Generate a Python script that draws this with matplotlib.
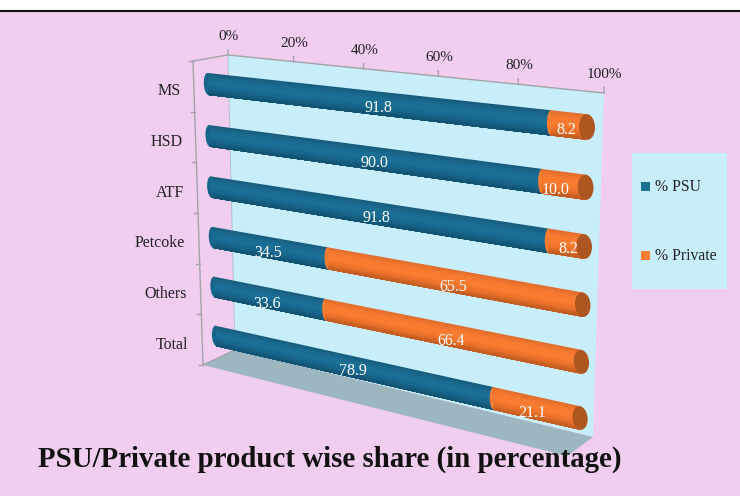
import numpy as np
import matplotlib
matplotlib.use("Agg")
import matplotlib.pyplot as plt
from matplotlib.patches import Ellipse, Rectangle
from matplotlib.transforms import Transform

categories = ["MS", "HSD", "ATF", "Petcoke", "Others", "Total"]
psu = [91.8, 90.0, 91.8, 34.5, 33.6, 78.9]
private = [8.2, 10.0, 8.2, 65.5, 66.4, 21.1]
series_names = ["% PSU", "% Private"]
pct_ticks = [0, 20, 40, 60, 80, 100]

plt.rcParams["font.family"] = ["Liberation Serif", "DejaVu Serif"]

PINK = "#f1cdf0"
WALL = "#c8eefc"
FLOOR = "#9db7c1"
GREY = "#a3a3a8"
INK = "#222222"
BLUE = ["#175a7c", "#1a6c91", "#1b7097", "#17658a", "#11506f"]
ORANGE = ["#e06c2b", "#f77a30", "#fb7d31", "#ea7029", "#bb5a20"]
CAP = "#ad5620"

# hand nudges of the value labels along the bar, in pixels
psu_nudge = [5, 4, 3, -6, -7, 1]
private_nudge = [-3, -8, 2, 4, 4, -4]
private_lift = [0, 0, 0, 2, 2, 0]


class Perspective(Transform):
    # maps a plane (u, v) onto picture pixels, from its four corners
    input_dims = 2
    output_dims = 2

    def __init__(self, u, v, tl, tr, bl, br):
        super().__init__()
        a = []
        b = []
        src = [(u[0], v[0]), (u[1], v[0]), (u[0], v[1]), (u[1], v[1])]
        for (x, y), (px, py) in zip(src, [tl, tr, bl, br]):
            a.append([x, y, 1, 0, 0, 0, -px * x, -px * y])
            a.append([0, 0, 0, x, y, 1, -py * x, -py * y])
            b += [px, py]
        self.h = np.append(np.linalg.solve(np.array(a, float), np.array(b, float)), 1).reshape(3, 3)

    def transform_non_affine(self, values):
        pts = np.column_stack([values, np.ones(len(values))]) @ self.h.T
        return pts[:, :2] / pts[:, 2:]


fig = plt.figure(figsize=(7.4, 4.96), dpi=100, facecolor=PINK)
ax = fig.add_axes([0, 0, 1, 1])
ax.set_xlim(0, 740)
ax.set_ylim(496, 0)
ax.autoscale(False)
ax.axis("off")

# white strip and rule at the top of the slide
ax.add_patch(Rectangle((0, 0), 740, 11, color="white", lw=0))
ax.plot([0, 740], [11, 11], color="#111111", lw=1.5)

# chart box: wall, floor, side edges
wall_tl, wall_tr, wall_bl, wall_br = (228, 55), (604, 93), (235, 350), (593, 437)
ax.fill(*zip(wall_tl, wall_tr, wall_br, wall_bl), color=WALL, lw=0)
ax.fill(*zip(wall_bl, wall_br, (567, 456), (203, 365)), color=FLOOR, lw=0)
ax.plot(*zip((193, 61), wall_tl, wall_tr), color=GREY, lw=1)
ax.plot(*zip(wall_tl, wall_bl), color="#b9c4d0", lw=0.8)
ax.plot(*zip((193, 61), (203, 365), wall_bl), color=GREY, lw=1)

wall = Perspective((0, 100), (0, 1), wall_tl, wall_tr, wall_bl, wall_br) + ax.transData
for p in pct_ticks:
    ax.plot([p, p], [0, -0.016], color=GREY, lw=1, transform=wall)
    ax.annotate(str(p) + "%", (p, 0), xycoords=wall, xytext=(0.5, 13.3), textcoords="offset points",
                ha="center", va="center", fontsize=11, color=INK)

n = len(categories)
for i in range(n + 1):
    yy = 61 + (365 - 61) * i / n
    xx = 193 + 10 * i / n
    ax.plot([xx - 4, xx], [yy, yy], color=GREY, lw=1)

# plane the bars sit on: x is percent, y is the category slot
bars = Perspective((0, 100), (0, 5), (208, 84), (587, 127), (216, 336), (580, 418)) + ax.transData

half = 0.21
strips = 24
edges = np.linspace(-half, half, strips + 1)
shade_pos = np.linspace(0, 1, len(BLUE))


def shade(colors, f):
    rgb = np.array([matplotlib.colors.to_rgb(c) for c in colors])
    return [np.interp(f, shade_pos, rgb[:, k]) for k in range(3)]


def cylinder(i, left, width, colors):
    for k in range(strips):
        f = (k + 0.5) / strips
        # every strip runs down to the bar's lower edge, the next one paints over it
        mid = i + (edges[k] + half) / 2
        ax.barh(mid, width, left=left, height=half - edges[k], color=shade(colors, f), lw=0,
                transform=bars, zorder=3)


for i, name in enumerate(categories):
    ax.add_patch(Ellipse((0, i), 2.6, 2 * half, color=BLUE[3], lw=0, transform=bars, zorder=3))
    cylinder(i, 0, psu[i], BLUE)
    # the orange part bulges a little into the blue one
    ax.add_patch(Ellipse((psu[i], i), 2.0, 2 * half, color=ORANGE[2], lw=0, transform=bars, zorder=3))
    cylinder(i, psu[i], private[i], ORANGE)
    ax.add_patch(Ellipse((100, i), 3.6, 2 * half, color=CAP, lw=0, transform=bars, zorder=3))

    ax.annotate(f"{psu[i]:.1f}", (psu[i] / 2 + 1.5, i + 0.09), xycoords=bars,
                xytext=(psu_nudge[i] * 0.72, 0), textcoords="offset points",
                ha="center", va="center", fontsize=11.5, color="white", zorder=4)
    ax.annotate(f"{private[i]:.1f}", (psu[i] + private[i] / 2, i + 0.09), xycoords=bars,
                xytext=(private_nudge[i] * 0.72, -private_lift[i] * 0.72), textcoords="offset points",
                ha="center", va="center", fontsize=11.5, color="white", zorder=4)
    ax.text(181 + 1.4 * i, 66 + (365 - 61) * (i + 0.5) / n, name, ha="right", va="center",
            fontsize=11.5, color=INK)

# legend box
ax.add_patch(Rectangle((632, 153), 95, 136, color=WALL, lw=0))
for name, col, y in zip(series_names, [BLUE[2], ORANGE[2]], [186, 255]):
    ax.add_patch(Rectangle((641, y - 4.5), 9, 9, color=col, lw=0))
    ax.text(655, y + 1, name, ha="left", va="center", fontsize=11.3, color=INK)

ax.text(38, 459, "PSU/Private product wise share (in percentage)", ha="left", va="center",
        fontsize=20.8, fontweight="bold", color="#111111")

fig.savefig("out.png", dpi=100, facecolor=PINK)
